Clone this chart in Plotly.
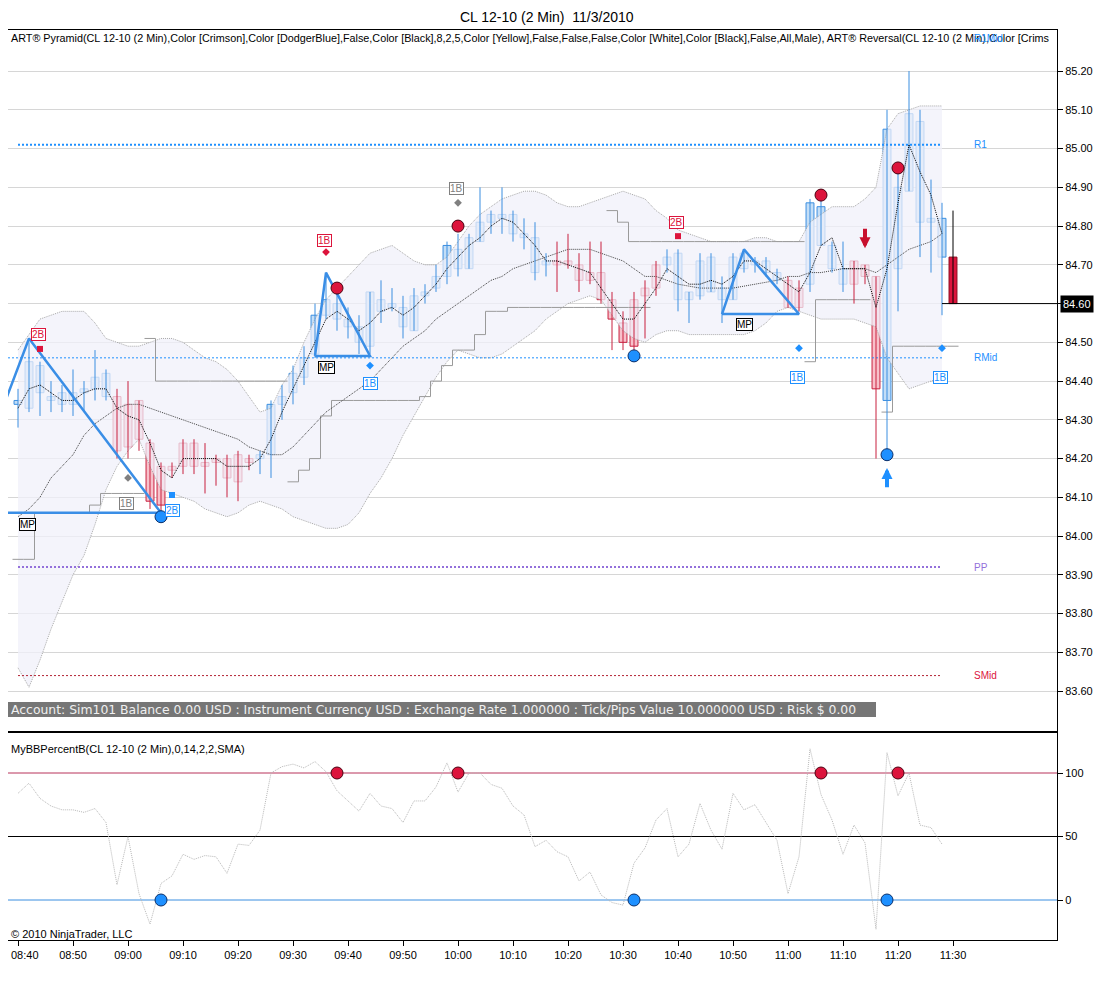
import plotly.graph_objects as go

# ============================================================
# DATI LETTI DAL GRAFICO — CL 12-10 (2 Min) 11/3/2010
# ============================================================

# Etichette orarie dell'asse x (una ogni 5 barre da 2 minuti)
TIME_LABELS = ["08:40", "08:50", "09:00", "09:10", "09:20", "09:30", "09:40", "09:50",
               "10:00", "10:10", "10:20", "10:30", "10:40", "10:50", "11:00", "11:10",
               "11:20", "11:30"]

# Candele (barre da 2 minuti, dalla 08:40 alla 11:30)
OPEN = [84.34, 84.33, 84.37, 84.35, 84.34, 84.34, 84.37, 84.38, 84.36, 84.36,
        84.34, 84.35, 84.24, 84.18, 84.18, 84.24, 84.24, 84.19, 84.20, 84.20,
        84.21, 84.20, 84.20, 84.21, 84.34, 84.37, 84.41, 84.47, 84.57, 84.56,
        84.54, 84.50, 84.49, 84.58, 84.59, 84.54, 84.53, 84.62, 84.64, 84.67,
        84.69, 84.69, 84.76, 84.81, 84.82, 84.78, 84.77, 84.68, 84.70, 84.71,
        84.71, 84.70, 84.68, 84.68, 84.61, 84.55, 84.61, 84.64, 84.70, 84.70,
        84.61, 84.61, 84.62, 84.63, 84.61, 84.61, 84.69, 84.70, 84.68, 84.66,
        84.66, 84.64, 84.65, 84.75, 84.69, 84.65, 84.71, 84.70, 84.67, 84.35,
        84.69, 84.89, 84.81, 84.81, 84.72, 84.72]
HIGH = [84.38, 84.50, 84.45, 84.40, 84.39, 84.43, 84.40, 84.48, 84.43, 84.38,
        84.40, 84.35, 84.25, 84.19, 84.19, 84.25, 84.25, 84.24, 84.21, 84.21,
        84.22, 84.21, 84.22, 84.35, 84.39, 84.44, 84.49, 84.60, 84.68, 84.64,
        84.59, 84.57, 84.63, 84.66, 84.64, 84.62, 84.64, 84.65, 84.70, 84.76,
        84.78, 84.78, 84.90, 84.84, 84.90, 84.84, 84.82, 84.81, 84.73, 84.76,
        84.78, 84.73, 84.76, 84.76, 84.63, 84.58, 84.63, 84.66, 84.71, 84.74,
        84.74, 84.63, 84.73, 84.73, 84.67, 84.73, 84.74, 84.72, 84.72, 84.69,
        84.67, 84.66, 84.87, 84.87, 84.76, 84.76, 84.71, 84.70, 84.67, 85.10,
        84.94, 85.20, 85.10, 84.92, 84.86, 84.84]
LOW = [84.28, 84.32, 84.31, 84.32, 84.32, 84.31, 84.32, 84.35, 84.35, 84.20,
       84.20, 84.22, 84.07, 84.06, 84.15, 84.16, 84.16, 84.11, 84.13, 84.10,
       84.09, 84.17, 84.16, 84.15, 84.30, 84.34, 84.39, 84.46, 84.56, 84.53,
       84.51, 84.47, 84.47, 84.55, 84.58, 84.51, 84.53, 84.60, 84.63, 84.65,
       84.67, 84.69, 84.76, 84.78, 84.78, 84.76, 84.74, 84.66, 84.67, 84.63,
       84.69, 84.63, 84.65, 84.60, 84.48, 84.48, 84.46, 84.51, 84.62, 84.68,
       84.58, 84.55, 84.61, 84.63, 84.55, 84.61, 84.68, 84.68, 84.67, 84.65,
       84.59, 84.58, 84.63, 84.75, 84.68, 84.63, 84.60, 84.65, 84.20, 84.21,
       84.58, 84.89, 84.72, 84.68, 84.57, 84.60]
CLOSE = [84.35, 84.45, 84.44, 84.36, 84.37, 84.37, 84.38, 84.41, 84.42, 84.22,
         84.23, 84.25, 84.09, 84.08, 84.17, 84.18, 84.18, 84.18, 84.19, 84.15,
         84.14, 84.19, 84.21, 84.34, 84.36, 84.42, 84.46, 84.57, 84.61, 84.60,
         84.56, 84.54, 84.63, 84.61, 84.60, 84.59, 84.62, 84.63, 84.67, 84.75,
         84.74, 84.77, 84.81, 84.83, 84.83, 84.83, 84.78, 84.77, 84.71, 84.70,
         84.70, 84.66, 84.66, 84.61, 84.56, 84.50, 84.49, 84.62, 84.64, 84.72,
         84.73, 84.63, 84.71, 84.72, 84.64, 84.72, 84.73, 84.71, 84.71, 84.68,
         84.59, 84.59, 84.86, 84.85, 84.75, 84.69, 84.65, 84.67, 84.38, 85.05,
         84.90, 85.09, 85.07, 84.82, 84.82, 84.60]

# Bande di Bollinger (superiore, media, inferiore) e media veloce
BB_UPPER = [84.48, 84.52, 84.56, 84.57, 84.58, 84.58, 84.58, 84.55, 84.51, 84.50,
            84.49, 84.49, 84.50, 84.51, 84.51, 84.50, 84.48, 84.46, 84.45, 84.43,
            84.40, 84.36, 84.32, 84.33, 84.39, 84.43, 84.50, 84.56, 84.61, 84.64,
            84.67, 84.70, 84.73, 84.74, 84.75, 84.73, 84.71, 84.70, 84.70, 84.72,
            84.76, 84.80, 84.83, 84.85, 84.87, 84.88, 84.89, 84.89, 84.88, 84.86,
            84.85, 84.85, 84.86, 84.87, 84.88, 84.89, 84.88, 84.87, 84.84, 84.82,
            84.79, 84.78, 84.77, 84.76, 84.76, 84.76, 84.76, 84.77, 84.77, 84.76,
            84.76, 84.76, 84.81, 84.83, 84.85, 84.85, 84.85, 84.87, 84.90, 85.05,
            85.09, 85.10, 85.11, 85.11, 85.11]
BB_MID = [84.05, 84.07, 84.10, 84.15, 84.18, 84.21, 84.26, 84.29, 84.31, 84.33,
          84.34, 84.34, 84.33, 84.32, 84.31, 84.30, 84.29, 84.28, 84.27, 84.26,
          84.25, 84.23, 84.22, 84.21, 84.21, 84.23, 84.26, 84.29, 84.32, 84.34,
          84.36, 84.38, 84.40, 84.43, 84.46, 84.49, 84.51, 84.53, 84.56, 84.58,
          84.60, 84.62, 84.64, 84.66, 84.67, 84.69, 84.70, 84.71, 84.72, 84.73,
          84.74, 84.74, 84.74, 84.73, 84.72, 84.71, 84.69, 84.67, 84.67, 84.66,
          84.65, 84.645, 84.64, 84.64, 84.64, 84.64, 84.645, 84.65, 84.655, 84.66,
          84.67, 84.67, 84.68, 84.68, 84.685, 84.69, 84.69, 84.69, 84.68, 84.70,
          84.72, 84.74, 84.75, 84.76, 84.78]
BB_LOWER = [83.66, 83.61, 83.68, 83.76, 83.83, 83.90, 83.95, 84.03, 84.12, 84.18,
            84.22, 84.25, 84.18, 84.12, 84.11, 84.10, 84.09, 84.07, 84.06, 84.05,
            84.06, 84.08, 84.09, 84.08, 84.07, 84.05, 84.04, 84.03, 84.02, 84.02,
            84.03, 84.06, 84.11, 84.15, 84.20, 84.26, 84.31, 84.36, 84.41, 84.45,
            84.48, 84.47, 84.46, 84.46, 84.47, 84.49, 84.51, 84.53, 84.56, 84.58,
            84.60, 84.61, 84.62, 84.61, 84.57, 84.53, 84.51, 84.50, 84.52, 84.53,
            84.53, 84.52, 84.52, 84.52, 84.52, 84.52, 84.52, 84.53, 84.55, 84.58,
            84.59, 84.58, 84.57, 84.56, 84.56, 84.56, 84.56, 84.55, 84.54, 84.46,
            84.42, 84.38, 84.39, 84.40, 84.41]
FAST_LINE = [84.33, 84.38, 84.39, 84.37, 84.35, 84.35, 84.37, 84.38, 84.38, 84.33,
             84.31, 84.30, 84.24, 84.17, 84.15, 84.20, 84.20, 84.20, 84.20, 84.18,
             84.18, 84.18, 84.20, 84.25, 84.32, 84.38, 84.44, 84.50, 84.56, 84.58,
             84.56, 84.53, 84.55, 84.58, 84.59, 84.57, 84.59, 84.62, 84.65, 84.69,
             84.72, 84.75, 84.77, 84.80, 84.82, 84.81, 84.78, 84.75, 84.71, 84.71,
             84.70, 84.69, 84.68, 84.64, 84.60, 84.56, 84.56, 84.60, 84.64, 84.69,
             84.67, 84.65, 84.65, 84.66, 84.65, 84.67, 84.71, 84.71, 84.69, 84.67,
             84.65, 84.63, 84.68, 84.75, 84.77, 84.69, 84.69, 84.69, 84.59, 84.69,
             84.86, 85.01, 84.94, 84.88, 84.78]

# Linee a gradini (stop della Pyramid): prima barra e livelli per barra
STEP_STARTS = [0, 12, 25, 54, 72, 79]
STEP_LEVELS = [
    [83.94, 83.94, 84.06, 84.06, 84.06, 84.06, 84.06, 84.08, 84.11, 84.11, 84.11, 84.11],
    [84.51] + [84.40] * 12,
    [84.14, 84.17, 84.20, 84.31] + [84.35] * 8
    + [84.36, 84.40, 84.44, 84.48, 84.48, 84.52, 84.58, 84.58] + [84.59] * 13,
    [84.84, 84.81] + [84.76] * 16,
    [84.45] + [84.61] * 5,
    [84.32] + [84.49] * 6,
]

# Triangoli MP (barra, prezzo dei vertici)
MP_BARS = [[-5, 1, 13, -5], [27, 28, 32, 27], [64, 66, 71, 64]]
MP_PRICES = [[84.06, 84.51, 84.06, 84.06],
             [84.465, 84.68, 84.465, 84.465],
             [84.573, 84.74, 84.573, 84.573]]

# Livelli pivot
PIVOT_NAMES = ["R1", "RMid", "PP", "SMid"]
PIVOT_LEVELS = [85.01, 84.46, 83.92, 83.64]
PIVOT_FIRST_BAR = [0, -2, 0, 0]
PIVOT_COLORS = ["#1E90FF", "#1E90FF", "#9370DB", "#B22234"]
PIVOT_TEXT_COLORS = ["#1E90FF", "#1E90FF", "#9370DB", "#DC143C"]
PIVOT_WIDTHS = [2, 1, 2, 1]

# Segnali (pallini) sul grafico prezzi
RED_DOT_BARS = [29, 40, 73, 80]
RED_DOT_PRICES = [84.64, 84.80, 84.88, 84.95]
BLUE_DOT_BARS = [13, 56, 79]
BLUE_DOT_PRICES = [84.05, 84.465, 84.21]

# Etichette 1B / 2B / MP
LABEL_TEXT = ["2B", "MP", "1B", "2B", "1B", "MP", "1B", "1B", "2B", "MP", "1B", "1B"]
LABEL_BARS = [1.9, 0.9, 9.9, 14.0, 27.9, 28.0, 32.0, 39.9, 59.9, 66.0, 70.9, 83.9]
LABEL_PRICES = [84.52, 84.03, 84.083, 84.067, 84.764, 84.434, 84.395, 84.898,
                84.81, 84.545, 84.41, 84.41]
LABEL_COLORS = ["#DC143C", "#000000", "#808080", "#1E90FF", "#DC143C", "#000000",
                "#1E90FF", "#808080", "#DC143C", "#000000", "#1E90FF", "#1E90FF"]

# Piccoli marcatori (quadrati / rombi)
MARK_BARS = [2, 10, 14, 28, 32, 40, 60, 71, 84]
MARK_PRICES = [84.483, 84.15, 84.106, 84.733, 84.44, 84.86, 84.774, 84.485, 84.485]
MARK_SYMBOLS = ["square", "diamond", "square", "diamond", "diamond", "diamond",
                "square", "diamond", "diamond"]
MARK_COLORS = ["#DC143C", "#808080", "#1E90FF", "#DC143C", "#1E90FF", "#808080",
               "#DC143C", "#1E90FF", "#1E90FF"]

# Frecce (barra, coda, punta)
ARROW_BARS = [77, 79]
ARROW_TAILS = [84.797, 84.122]
ARROW_TIPS = [84.743, 84.176]
ARROW_COLORS = ["#C8102E", "#1E90FF"]

# Pannello inferiore: MyBBPercentB
PCT_B = [84, 92, 80, 74, 71, 71, 69, 72, 61, 12, 50, 5, -19, 13, 19, 36, 32, 35, 34, 21,
         44, 43, 55, 100, 105, 107, 104, 109, 101, 86, 78, 70, 84, 74, 72, 61, 78, 78, 89, 108,
         85, 100, 100, 91, 88, 74, 67, 42, 47, 38, 34, 15, 22, 4, -2, -4, 29, 41, 63, 72,
         34, 44, 76, 55, 40, 84, 71, 75, 61, 47, 5, 34, 119, 83, 63, 36, 59, 45, -23, 116,
         82, 100, 59, 57, 44]
PCT_LEVELS = [100, 50, 0]
PCT_LEVEL_COLORS = ["#B8325A", "#000000", "#3A8EE0"]
PCT_RED_BARS = [29, 40, 73, 80]
PCT_BLUE_BARS = [13, 56, 79]

PRICE_TICKS = [83.6, 83.7, 83.8, 83.9, 84.0, 84.1, 84.2, 84.3, 84.4, 84.5,
               84.6, 84.7, 84.8, 84.9, 85.0, 85.1, 85.2]


# ============================================================
# LAYOUT IN PIXEL
# La pagina html ha 8px di margine: la figura e' piu' piccola
# e tutte le posizioni sono espresse in pixel della pagina
# ============================================================
PAGE_PAD = 8
W, H = 1104 - PAGE_PAD, 987 - 2 * PAGE_PAD
PLOT_LEFT, PLOT_RIGHT, PLOT_TOP, PLOT_BOTTOM = 8, 1057, 30, 940   # pixel nella pagina
M_L = PLOT_LEFT - PAGE_PAD
M_R = W - (PLOT_RIGHT - PAGE_PAD)
M_T = PLOT_TOP - PAGE_PAD
M_B = H - (PLOT_BOTTOM - PAGE_PAD)
PLOT_W = PLOT_RIGHT - PLOT_LEFT
PLOT_H = PLOT_BOTTOM - PLOT_TOP
BAR0_PX, BAR_PX = 18, 11          # posizione della prima barra e passo
X_MIN = (PLOT_LEFT - BAR0_PX) / BAR_PX
X_MAX = (PLOT_RIGHT - BAR0_PX) / BAR_PX
FONT = "Liberation Sans, Arial"
DOTS = "1px,1px"


def px(x):
    """pixel orizzontale della pagina -> coordinata paper"""
    return (x - PLOT_LEFT) / PLOT_W


def py(y):
    """pixel verticale della pagina -> coordinata paper"""
    return (PLOT_BOTTOM - y) / PLOT_H


BARS = list(range(len(CLOSE)))
N_IND = len(BB_UPPER)

fig = go.Figure()

# ---- Bande di Bollinger con riempimento ----
fig.add_trace(go.Scatter(x=BARS[:N_IND], y=BB_UPPER, mode="lines",
                         line=dict(color="#A8A8A8", width=1, dash=DOTS)))
fig.add_trace(go.Scatter(x=BARS[:N_IND], y=BB_LOWER, mode="lines", fill="tonexty",
                         fillcolor="rgba(240,240,249,0.75)",
                         line=dict(color="#A8A8A8", width=1, dash=DOTS)))

# ---- Linee pivot ----
for nome, liv, b0, col, tcol, lw in zip(PIVOT_NAMES, PIVOT_LEVELS, PIVOT_FIRST_BAR,
                                        PIVOT_COLORS, PIVOT_TEXT_COLORS, PIVOT_WIDTHS):
    fig.add_trace(go.Scatter(x=[b0, N_IND - 1], y=[liv, liv], mode="lines",
                             line=dict(color=col, width=lw, dash="2px,2px")))
    fig.add_annotation(x=86.7, y=liv, text=nome, showarrow=False, xanchor="left",
                       yanchor="middle", font=dict(family=FONT, size=10, color=tcol))

# ---- Linee a gradini ----
for start, livelli in zip(STEP_STARTS, STEP_LEVELS):
    xs = [start + k - 0.5 for k in range(len(livelli))] + [start + len(livelli) - 0.5]
    ys = livelli + [livelli[-1]]
    fig.add_trace(go.Scatter(x=xs, y=ys, mode="lines", line_shape="hv",
                             line=dict(color="#9A9A9A", width=1)))

# ---- Media delle bande ----
fig.add_trace(go.Scatter(x=BARS[:N_IND], y=BB_MID, mode="lines",
                         line=dict(color="#404040", width=1, dash=DOTS)))

# ---- Candele: stoppini + corpi ----
STILI = {
    "up": ("#C3DEF7", "#3A8EE0", "#3A8EE0"),
    "down": ("#F8C0CA", "#C8203F", "#C8203F"),
    "last": ("#DC143C", "#8B0A1E", "#000000"),
}
for tipo, (fill, bordo, stoppino) in STILI.items():
    if tipo == "last":
        idx = [BARS[-1]]
    elif tipo == "up":
        idx = [i for i in BARS[:-1] if CLOSE[i] >= OPEN[i]]
    else:
        idx = [i for i in BARS[:-1] if CLOSE[i] < OPEN[i]]
    wx, wy = [], []
    for i in idx:
        wx += [i, i, None]
        wy += [LOW[i], HIGH[i], None]
    fig.add_trace(go.Scatter(x=wx, y=wy, mode="lines",
                             line=dict(color=stoppino, width=1)))
    fig.add_trace(go.Bar(x=idx, base=[min(OPEN[i], CLOSE[i]) for i in idx],
                         y=[abs(CLOSE[i] - OPEN[i]) for i in idx], width=0.72,
                         marker=dict(color=fill, line=dict(color=bordo, width=1))))

fig.add_trace(go.Scatter(x=BARS[:N_IND], y=FAST_LINE, mode="lines",
                         line=dict(color="#000000", width=1, dash=DOTS)))

# ---- Triangoli MP ----
for xs, ys in zip(MP_BARS, MP_PRICES):
    fig.add_trace(go.Scatter(x=xs, y=ys, mode="lines",
                             line=dict(color="#3A8EE6", width=2.5)))

# ---- Ultimo prezzo ----
fig.add_trace(go.Scatter(x=[N_IND - 1, X_MAX], y=[CLOSE[-1], CLOSE[-1]], mode="lines",
                         line=dict(color="#000000", width=1)))

# ---- Marcatori ----
fig.add_trace(go.Scatter(x=MARK_BARS, y=MARK_PRICES, mode="markers",
                         marker=dict(symbol=MARK_SYMBOLS, color=MARK_COLORS, size=6)))
fig.add_trace(go.Scatter(x=RED_DOT_BARS, y=RED_DOT_PRICES, mode="markers",
                         marker=dict(color="#DC143C", size=12,
                                     line=dict(color="#4A0010", width=1))))
fig.add_trace(go.Scatter(x=BLUE_DOT_BARS, y=BLUE_DOT_PRICES, mode="markers",
                         marker=dict(color="#1E90FF", size=12,
                                     line=dict(color="#0A2F6A", width=1))))

for b, coda, punta, col in zip(ARROW_BARS, ARROW_TAILS, ARROW_TIPS, ARROW_COLORS):
    fig.add_annotation(x=b, y=punta, ax=b, ay=coda, xref="x", yref="y",
                       axref="x", ayref="y", text="", showarrow=True,
                       arrowhead=2, arrowsize=0.55, arrowwidth=4, arrowcolor=col)

for txt, b, p, col in zip(LABEL_TEXT, LABEL_BARS, LABEL_PRICES, LABEL_COLORS):
    fig.add_annotation(x=b, y=p, text=txt, showarrow=False, bgcolor="white",
                       bordercolor=col, borderwidth=1, borderpad=0, yanchor="middle",
                       font=dict(family=FONT, size=10, color=col))

# ============================================================
# PANNELLO INFERIORE — MyBBPercentB
# ============================================================
for liv, col in zip(PCT_LEVELS, PCT_LEVEL_COLORS):
    fig.add_shape(type="line", xref="x2 domain", yref="y2", x0=0, x1=1, y0=liv, y1=liv,
                  line=dict(color=col, width=1), layer="below")
fig.add_trace(go.Scatter(x=BARS[:len(PCT_B)], y=PCT_B, mode="lines",
                         xaxis="x2", yaxis="y2",
                         line=dict(color="#B8B8B8", width=1, dash=DOTS)))
fig.add_trace(go.Scatter(x=PCT_RED_BARS, y=[PCT_LEVELS[0]] * len(PCT_RED_BARS),
                         mode="markers", xaxis="x2", yaxis="y2",
                         marker=dict(color="#DC143C", size=12,
                                     line=dict(color="#4A0010", width=1))))
fig.add_trace(go.Scatter(x=PCT_BLUE_BARS, y=[PCT_LEVELS[2]] * len(PCT_BLUE_BARS),
                         mode="markers", xaxis="x2", yaxis="y2",
                         marker=dict(color="#1E90FF", size=12,
                                     line=dict(color="#0A2F6A", width=1))))

# ============================================================
# TESTI
# ============================================================
def testo(x, y, t, size=11, color="#000000", anchor="left", family=FONT):
    fig.add_annotation(xref="paper", yref="paper", x=px(x), y=py(y), text=t,
                       showarrow=False, xanchor=anchor, yanchor="middle",
                       font=dict(family=family, size=size, color=color))


testo(547, 17, "CL 12-10 (2 Min)  11/3/2010", size=14, anchor="center")
testo(9, 38, "ART® Pyramid(CL 12-10 (2 Min),Color [Crimson],Color [DodgerBlue],"
             "False,Color [Black],8,2,5,Color [Yellow],False,False,False,"
             "Color [White],Color [Black],False,All,Male), ART® Reversal"
             "(CL 12-10 (2 Min),Color [Crims", size=10.8)
testo(972, 39, "R1Mid", size=10, color="#1E90FF")
testo(9, 749, "MyBBPercentB(CL 12-10 (2 Min),0,14,2,2,SMA)")
testo(9, 934, "© 2010 NinjaTrader, LLC")
# prima etichetta oraria (sul bordo sinistro della pagina)
testo(9, 955, TIME_LABELS[0])

# Barra account
fig.add_shape(type="rect", xref="paper", yref="paper", x0=px(PLOT_LEFT), x1=px(876),
              y0=py(717), y1=py(702), fillcolor="#767676", line=dict(width=0))
testo(9, 709.5, "Account: Sim101 Balance 0.00 USD : Instrument Currency USD : "
                "Exchange Rate 1.000000 : Tick/Pips Value 10.000000 USD : Risk $ 0.00",
      size=12.4, color="#F0F0F0", family="DejaVu Sans")

# Riquadro ultimo prezzo
fig.add_annotation(xref="paper", yref="y", x=px(1060), y=CLOSE[-1], xanchor="left",
                   yanchor="middle", text=f"{CLOSE[-1]:.2f}", showarrow=False,
                   bgcolor="#000000", borderpad=2,
                   font=dict(family=FONT, size=11, color="#FFFFFF"))

# ============================================================
# ASSI
# ============================================================
fig.update_layout(
    width=W, height=H,
    margin=dict(l=M_L, r=M_R, t=M_T, b=M_B),
    paper_bgcolor="white", plot_bgcolor="white",
    showlegend=False, barmode="overlay",
    font=dict(family=FONT, size=11, color="#000000"),
    xaxis=dict(domain=[0, 1], range=[X_MIN, X_MAX], anchor="y",
               showticklabels=False, showgrid=False, zeroline=False,
               showline=True, mirror=True, linecolor="#000000", linewidth=1),
    yaxis=dict(domain=[py(731), 1], range=[83.497, 85.306], side="right", anchor="x",
               tickvals=PRICE_TICKS, tickformat=".2f", ticks="outside", ticklen=5,
               tickcolor="#000000", gridcolor="#D6D6D6", gridwidth=1, zeroline=False,
               showline=True, mirror=True, linecolor="#000000", linewidth=1,
               tickfont=dict(family=FONT, size=11)),
    xaxis2=dict(domain=[0, 1], range=[X_MIN, X_MAX], anchor="y2", matches="x",
                tickvals=list(range(0, 5 * len(TIME_LABELS), 5)),
                ticktext=[""] + TIME_LABELS[1:],
                ticks="outside", ticklen=5, tickcolor="#000000", showgrid=False,
                zeroline=False, showline=True, mirror=True, linecolor="#000000",
                linewidth=1, tickfont=dict(family=FONT, size=11)),
    yaxis2=dict(domain=[0, py(733)], range=[-31.5, 131.5], side="right", anchor="x2",
                tickvals=PCT_LEVELS, ticks="outside", ticklen=5, tickcolor="#000000",
                showgrid=False, zeroline=False, showline=True, mirror=True,
                linecolor="#000000", linewidth=1, tickfont=dict(family=FONT, size=11)),
)

fig.write_html("out.html")
